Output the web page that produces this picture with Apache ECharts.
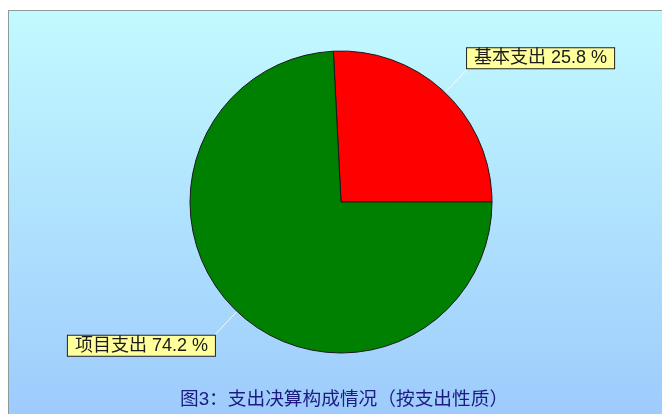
<!DOCTYPE html>
<html>
<head>
<meta charset="utf-8">
<script src="https://cdn.jsdelivr.net/npm/echarts@6/dist/echarts.min.js"></script>
<style>
  html, body { margin: 0; padding: 0; background: #fff; }
  #chart {
    position: absolute; left: 8px; top: 10px;
    width: 654px; height: 404px;
    border-top: 1px solid #8c9c9c; border-left: 1px solid #8c9c9c;
  }
</style>
</head>
<body>
<div id="chart"></div>
<script>
var categories = ['基本支出', '项目支出'];
var percents = [25.8, 74.2];
var colors = ['#ff0000', '#008000'];
var titleText = '图3：支出决算构成情况（按支出性质）';

var chart = echarts.init(document.getElementById('chart'));

var font = '"Liberation Sans", "Noto Sans CJK SC", sans-serif';

var pieData = categories.map(function (name, i) {
  return { name: name, value: percents[i], itemStyle: { color: colors[i] } };
});

// first label sits above its line end, the other below it
function labelText(params) {
  var box = '{b|' + params.name + ' ' + params.value + ' %}';
  return params.dataIndex === 0 ? box + '\n{e| }' : '{e| }\n' + box;
}

var option = {
  backgroundColor: {
    type: 'linear', x: 0, y: 0, x2: 0, y2: 1,
    colorStops: [
      { offset: 0, color: '#c2faff' },
      { offset: 1, color: '#9ecbfc' }
    ]
  },
  title: {
    text: titleText,
    left: 171,
    bottom: 6,
    padding: 0,
    textStyle: { color: '#1b1b80', fontSize: 18.7, fontWeight: 'normal', fontFamily: font }
  },
  series: [{
    type: 'pie',
    center: [332, 191],
    radius: 151,
    startAngle: 92.9,
    clockwise: true,
    avoidLabelOverlap: false,
    animation: false,
    itemStyle: { borderColor: '#1a1a1a', borderWidth: 1 },
    emphasis: { disabled: true },
    label: {
      show: true,
      position: 'outside',
      distanceToLabelLine: 0,
      formatter: labelText,
      rich: {
        b: {
          fontFamily: font,
          fontSize: 18,
          color: '#1a1a1a',
          lineHeight: 20,
          backgroundColor: '#ffff9c',
          borderColor: '#222',
          borderWidth: 1,
          padding: [1, 7, 1, 7]
        },
        e: { fontSize: 10, lineHeight: 22 }
      }
    },
    labelLine: {
      show: true,
      length: 32,
      length2: 0,
      lineStyle: { color: 'rgba(255,255,255,0.85)', width: 1 }
    },
    data: pieData
  }]
};

chart.setOption(option);
</script>
</body>
</html>
